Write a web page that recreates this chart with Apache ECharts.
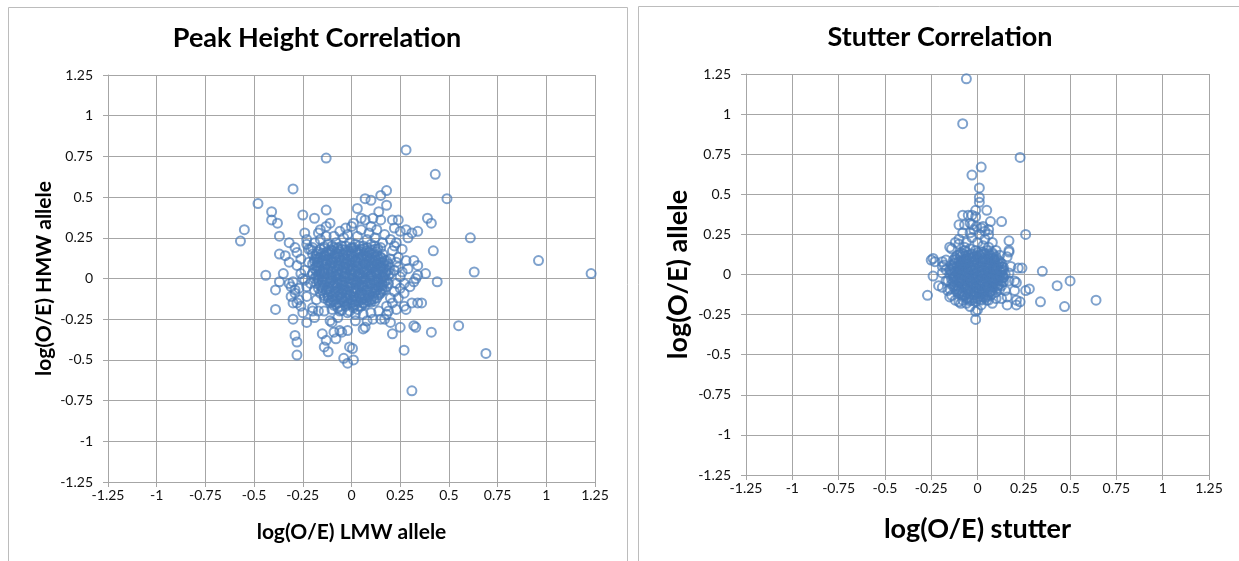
<!DOCTYPE html>
<html>
<head>
<meta charset="utf-8">
<script src="https://cdn.jsdelivr.net/npm/echarts@6/dist/echarts.min.js"></script>
<style>
  html, body { margin: 0; padding: 0; background: #fff; }
  #chart { width: 1239px; height: 561px; }
</style>
</head>
<body>
<div id="chart"></div>
<script>
// Shared axis range for both panels (log ratios)
const axisMin = -1.25;
const axisMax = 1.25;
const axisStep = 0.25;

const peakTitle = 'Peak Height Correlation';
const peakXName = 'log(O/E) LMW allele';
const peakYName = 'log(O/E) HMW allele';
const stutterTitle = 'Stutter Correlation';
const stutterXName = 'log(O/E) stutter';
const stutterYName = 'log(O/E) allele';

// Peak height: [LMW allele, HMW allele] - scattered points around the cluster
const peakOuter = [
  [0.28,0.79],[-0.13,0.74],[0.43,0.64],[-0.3,0.55],[0.18,0.54],[0.49,0.49],[-0.48,0.46],
  [0.15,0.51],[0.07,0.49],[0.1,0.48],[-0.41,0.41],[-0.41,0.36],[-0.38,0.34],[-0.13,0.42],
  [0.18,0.45],[-0.55,0.3],[-0.57,0.23],[-0.37,0.26],[-0.25,0.39],[-0.19,0.37],[0.03,0.43],
  [0.14,0.41],[0.39,0.37],[0.41,0.34],[0.34,0.29],[0.61,0.25],[0.42,0.17],[0.63,0.04],
  [0.44,-0.02],[0.38,0.03],[0.33,0.0],[0.34,0.02],[-0.44,0.02],[-0.39,-0.07],[-0.39,-0.19],
  [-0.3,-0.25],[-0.29,-0.35],[-0.28,-0.39],[-0.28,-0.47],[-0.14,-0.42],[-0.12,-0.45],
  [-0.04,-0.49],[-0.02,-0.52],[0.01,-0.5],[-0.01,-0.42],[0.005,-0.43],[0.27,-0.44],
  [0.21,-0.34],[0.25,-0.3],[0.32,-0.29],[0.33,-0.3],[0.41,-0.33],[0.55,-0.29],[0.69,-0.46],
  [0.31,-0.15],[0.34,-0.15],[0.36,-0.15],[0.27,-0.09],[-0.15,-0.34],[-0.13,-0.38],
  [-0.1,-0.27],[-0.23,-0.27],[-0.19,-0.24],[-0.25,-0.21],[-0.26,-0.17],[-0.31,-0.05],
  [-0.3,-0.02],[-0.32,-0.03],[-0.35,0.03],[-0.37,-0.02],[-0.34,0.14],[-0.37,0.15],
  [-0.32,0.22],[-0.29,0.19],[-0.28,0.16],[-0.26,0.03],[-0.25,0.0],[-0.24,0.28],[-0.23,0.21],
  [-0.22,0.18],[-0.2,0.19],[-0.03,0.31],[0.0,0.32],[0.01,0.34],[0.05,0.37],[0.07,0.36],
  [0.11,0.37],[0.15,0.36],[0.21,0.36],[0.24,0.36],[0.22,0.31],[0.25,0.29],[0.28,0.3],
  [0.29,0.25],[0.31,0.28],[0.24,0.13],[0.28,0.11],[0.32,0.11],[0.34,0.08],[0.32,-0.02],
  [0.24,0.07],[0.25,0.01],[0.21,0.17],[0.2,0.12],[0.28,-0.19],[0.27,-0.17],[0.19,-0.2],
  [0.2,-0.27],[0.18,-0.22],[0.15,-0.25],[0.11,-0.25],[0.07,-0.3],[0.06,-0.31],[0.02,-0.26],
  [-0.02,-0.32],[-0.06,-0.32],[-0.09,-0.33],[-0.08,-0.37],[-0.05,-0.33],[-0.11,-0.26],
  [-0.17,-0.2],[-0.2,-0.2],[-0.14,-0.2],[-0.3,-0.15],[-0.27,-0.13],[-0.29,-0.09],
  [0.96,0.11],[1.23,0.03],[0.31,-0.69],[-0.29,-0.07],[-0.31,-0.11],[-0.28,-0.15],
  [-0.32,0.1],[-0.28,0.08],[-0.24,0.05],[-0.24,-0.01],[-0.23,-0.05],[-0.23,-0.11],
  [-0.2,0.15],[-0.18,0.12],[-0.17,0.1],[-0.2,0.03],[-0.21,-0.03],[-0.19,-0.07],
  [-0.18,-0.13],[-0.2,-0.18],[-0.17,0.28],[-0.16,0.3],[-0.13,0.32],[-0.11,0.34],
  [-0.23,0.24],[-0.21,0.18],
  [0.05,0.3],[0.09,0.28],[0.13,0.3],[0.17,0.27],[0.2,0.24],[0.23,0.22],[0.12,0.25],
  [0.16,0.22],[0.08,0.24],[0.03,0.26],[-0.02,0.27],[-0.06,0.29],[-0.09,0.26],[-0.13,0.26],
  [-0.16,0.24],[-0.19,0.22],[0.22,0.05],[0.23,-0.03],[0.22,-0.08],[0.24,-0.12],[0.21,-0.15],
  [0.18,-0.17],[0.14,-0.2],[0.1,-0.21],[0.06,-0.22],[0.02,-0.22],[-0.02,-0.21],[-0.06,-0.2],
  [-0.1,-0.19],[0.26,0.18],[0.22,0.2],[0.2,-0.12],[0.23,0.1],
  [0.26,0.04],[0.27,-0.03],[0.25,-0.06],[0.29,0.06],[0.3,-0.05],[0.23,-0.19],[0.17,-0.25],
  [-0.26,0.12],[-0.27,-0.06],[-0.22,0.1],[0.08,-0.26],[-0.07,-0.24],[-0.04,0.25],[0.1,0.32]
];

// Peak height: dense centre of the cluster
const peakCore = [
  [-0.12,0.21],[-0.08,0.22],[-0.05,0.2],[-0.01,0.22],[0.02,0.21],[0.06,0.2],[0.1,0.21],
  [-0.16,0.18],[-0.12,0.17],[-0.09,0.19],[-0.05,0.18],[-0.02,0.17],[0.01,0.19],[0.05,0.18],
  [0.08,0.17],[0.12,0.18],[0.15,0.19],
  [-0.18,0.15],[-0.14,0.14],[-0.11,0.16],[-0.07,0.15],[-0.04,0.14],[0.0,0.15],[0.03,0.16],
  [0.06,0.14],[0.1,0.15],[0.13,0.14],[0.16,0.15],
  [-0.19,0.12],[-0.15,0.11],[-0.12,0.12],[-0.08,0.13],[-0.05,0.11],[-0.02,0.12],[0.02,0.11],
  [0.05,0.12],[0.08,0.13],[0.11,0.11],[0.14,0.12],[0.17,0.11],
  [-0.2,0.09],[-0.17,0.08],[-0.13,0.09],[-0.1,0.1],[-0.06,0.08],[-0.03,0.09],[0.0,0.08],
  [0.03,0.1],[0.07,0.09],[0.1,0.08],[0.13,0.09],[0.16,0.08],[0.19,0.09],
  [-0.19,0.06],[-0.16,0.05],[-0.12,0.06],[-0.09,0.07],[-0.05,0.05],[-0.02,0.06],[0.01,0.05],
  [0.05,0.06],[0.08,0.05],[0.11,0.07],[0.15,0.06],[0.18,0.05],
  [-0.2,0.03],[-0.17,0.02],[-0.14,0.03],[-0.1,0.04],[-0.07,0.02],[-0.03,0.03],[0.0,0.02],
  [0.04,0.03],[0.07,0.04],[0.1,0.02],[0.13,0.03],[0.17,0.02],[0.2,0.03],
  [-0.19,0.0],[-0.15,-0.01],[-0.12,0.0],[-0.08,0.01],[-0.05,-0.01],[-0.01,0.0],[0.02,-0.01],
  [0.05,0.0],[0.09,0.01],[0.12,-0.01],[0.15,0.0],[0.18,-0.01],
  [-0.18,-0.03],[-0.14,-0.04],[-0.11,-0.02],[-0.07,-0.03],[-0.04,-0.04],[0.0,-0.03],
  [0.03,-0.02],[0.06,-0.04],[0.1,-0.03],[0.13,-0.02],[0.16,-0.04],[0.19,-0.03],
  [-0.17,-0.06],[-0.13,-0.07],[-0.1,-0.05],[-0.06,-0.06],[-0.03,-0.07],[0.01,-0.06],
  [0.04,-0.05],[0.08,-0.07],[0.11,-0.06],[0.14,-0.05],[0.17,-0.07],
  [-0.16,-0.09],[-0.12,-0.1],[-0.08,-0.08],[-0.05,-0.09],[-0.01,-0.1],[0.02,-0.08],
  [0.05,-0.09],[0.09,-0.1],[0.12,-0.08],[0.15,-0.09],
  [-0.14,-0.12],[-0.1,-0.13],[-0.07,-0.11],[-0.03,-0.12],[0.0,-0.13],[0.04,-0.11],
  [0.07,-0.12],[0.1,-0.13],[0.13,-0.12],
  [-0.11,-0.15],[-0.08,-0.16],[-0.04,-0.14],[-0.01,-0.15],[0.02,-0.16],[0.06,-0.15],[0.09,-0.14],
  [-0.07,-0.18],[-0.03,-0.17],[0.01,-0.18],[0.05,-0.17],
  [-0.14,0.195],[-0.1,0.2],[-0.07,0.19],[-0.03,0.2],[0.0,0.19],[0.04,0.2],[0.08,0.19],[0.12,0.2],
  [-0.17,0.165],[-0.13,0.16],[-0.1,0.17],[-0.06,0.165],[-0.03,0.16],[0.02,0.17],[0.05,0.165],
  [0.09,0.16],[0.13,0.165],
  [-0.18,0.135],[-0.16,0.13],[-0.13,0.14],[-0.09,0.135],[-0.06,0.13],[-0.02,0.14],[0.01,0.135],
  [0.05,0.13],[0.08,0.14],[0.12,0.135],[0.15,0.13],
  [-0.19,0.105],[-0.15,0.1],[-0.11,0.11],[-0.08,0.105],[-0.04,0.1],[-0.01,0.11],[0.02,0.105],
  [0.06,0.1],[0.09,0.11],[0.12,0.105],[0.15,0.1],[0.18,0.11],
  [-0.18,0.075],[-0.14,0.07],[-0.11,0.08],[-0.07,0.075],[-0.04,0.07],[-0.01,0.08],[0.03,0.075],
  [0.06,0.07],[0.09,0.08],[0.12,0.075],[0.15,0.07],[0.18,0.08],
  [-0.18,0.045],[-0.15,0.04],[-0.12,0.05],[-0.08,0.045],[-0.05,0.04],[-0.01,0.05],[0.02,0.045],
  [0.06,0.04],[0.09,0.05],[0.12,0.045],[0.16,0.04],[0.19,0.05],
  [-0.18,0.015],[-0.15,0.01],[-0.11,0.02],[-0.08,0.015],[-0.04,0.01],[-0.01,0.02],[0.03,0.015],
  [0.06,0.01],[0.1,0.02],[0.13,0.015],[0.16,0.01],[0.19,0.02],
  [-0.17,-0.015],[-0.13,-0.02],[-0.1,-0.01],[-0.06,-0.015],[-0.03,-0.02],[0.01,-0.01],
  [0.04,-0.015],[0.07,-0.02],[0.11,-0.01],[0.14,-0.015],[0.17,-0.02],
  [-0.16,-0.045],[-0.12,-0.05],[-0.09,-0.04],[-0.05,-0.045],[-0.02,-0.05],[0.02,-0.04],
  [0.05,-0.045],[0.08,-0.05],[0.12,-0.04],[0.15,-0.045],[0.18,-0.05],
  [-0.15,-0.075],[-0.11,-0.08],[-0.07,-0.07],[-0.04,-0.075],[0.0,-0.08],[0.03,-0.07],
  [0.07,-0.075],[0.1,-0.08],[0.13,-0.07],[0.16,-0.075],
  [-0.14,-0.105],[-0.1,-0.11],[-0.06,-0.1],[-0.03,-0.105],[0.01,-0.11],[0.04,-0.1],
  [0.07,-0.105],[0.11,-0.11],[0.14,-0.1],
  [-0.12,-0.135],[-0.09,-0.14],[-0.05,-0.13],[-0.02,-0.135],[0.02,-0.14],[0.05,-0.13],
  [0.08,-0.135],[0.12,-0.14],
  [-0.09,-0.165],[-0.06,-0.17],[-0.02,-0.16],[0.01,-0.165],[0.04,-0.17],[0.07,-0.16],
  [-0.05,-0.195],[-0.01,-0.2],[0.03,-0.19],
  [-0.14,0.185],[-0.105,0.175],[-0.07,0.185],[-0.035,0.175],[0.0,0.185],[0.03,0.175],
  [0.065,0.185],[0.1,0.175],[0.135,0.185],
  [-0.17,0.125],[-0.135,0.115],[-0.1,0.125],[-0.065,0.115],[-0.035,0.125],[0.0,0.115],
  [0.035,0.125],[0.065,0.115],[0.095,0.125],[0.125,0.115],[0.155,0.125],
  [-0.175,0.065],[-0.14,0.055],[-0.105,0.065],[-0.07,0.055],[-0.035,0.065],[0.0,0.055],
  [0.03,0.065],[0.065,0.055],[0.095,0.065],[0.13,0.055],[0.165,0.065],
  [-0.17,0.005],[-0.135,-0.005],[-0.1,0.005],[-0.065,-0.005],[-0.03,0.005],[0.005,-0.005],
  [0.035,0.005],[0.07,-0.005],[0.105,0.005],[0.135,-0.005],[0.165,0.005],
  [-0.15,-0.055],[-0.115,-0.065],[-0.08,-0.055],[-0.045,-0.065],[-0.01,-0.055],[0.025,-0.065],
  [0.06,-0.055],[0.095,-0.065],[0.125,-0.055],[0.155,-0.065],
  [-0.12,-0.115],[-0.085,-0.125],[-0.05,-0.115],[-0.015,-0.125],[0.02,-0.115],[0.055,-0.125],
  [0.085,-0.115],[0.115,-0.125],
  [-0.15,0.155],[-0.115,0.15],[-0.08,0.155],[-0.045,0.15],[-0.005,0.155],[0.035,0.15],
  [0.07,0.155],[0.11,0.15],
  [-0.17,0.095],[-0.13,0.09],[-0.095,0.095],[-0.06,0.09],[-0.025,0.095],[0.005,0.09],
  [0.04,0.095],[0.075,0.09],[0.105,0.095],[0.135,0.09],[0.165,0.095],
  [-0.165,0.035],[-0.135,0.03],[-0.1,0.035],[-0.065,0.03],[-0.03,0.035],[0.005,0.03],
  [0.04,0.035],[0.075,0.03],[0.105,0.035],[0.14,0.03],[0.175,0.035],
  [-0.15,-0.025],[-0.115,-0.03],[-0.08,-0.025],[-0.045,-0.03],[-0.01,-0.025],[0.025,-0.03],
  [0.055,-0.025],[0.09,-0.03],[0.125,-0.025],[0.155,-0.03],
  [-0.13,-0.085],[-0.09,-0.09],[-0.055,-0.085],[-0.02,-0.09],[0.015,-0.085],[0.05,-0.09],
  [0.085,-0.085],[0.115,-0.09],[0.145,-0.085],
  [-0.105,-0.145],[-0.07,-0.15],[-0.035,-0.145],[0.0,-0.15],[0.035,-0.145],[0.065,-0.15],
  [0.1,-0.145]
];

// Stutter: [stutter, allele] - scattered points around the cluster
const stutterOuter = [
  [-0.06,1.22],[-0.08,0.94],[0.23,0.73],[0.02,0.67],[-0.03,0.62],[0.01,0.54],[0.01,0.48],
  [0.01,0.45],[-0.01,0.4],[0.05,0.4],[-0.08,0.37],[-0.05,0.37],[-0.03,0.37],[-0.01,0.36],
  [-0.1,0.31],[-0.07,0.31],[-0.03,0.31],[0.07,0.33],[0.06,0.28],[0.13,0.33],[0.26,0.25],
  [0.17,0.21],[-0.08,0.26],[0.02,0.29],[-0.005,0.3],[-0.04,0.32],[0.08,0.2],[0.06,0.25],
  [0.04,0.22],[-0.15,0.17],[-0.14,0.16],[-0.1,0.19],[-0.24,0.1],[-0.23,0.08],[-0.25,0.09],
  [-0.19,0.08],[-0.17,0.09],[-0.24,-0.01],[-0.27,-0.13],[-0.21,-0.07],[-0.19,-0.08],
  [0.17,0.14],[0.17,0.15],[0.16,0.11],[0.22,0.04],[0.24,0.04],[0.35,0.02],[0.2,-0.04],
  [0.21,-0.05],[0.5,-0.04],[0.43,-0.07],[0.47,-0.2],[0.34,-0.17],[0.26,-0.1],[0.28,-0.09],
  [0.21,-0.16],[0.23,-0.17],[0.21,-0.19],[0.16,-0.19],[0.2,-0.1],[-0.01,-0.23],[-0.01,-0.28],
  [-0.04,-0.2],[0.1,-0.15],[0.05,-0.16],[-0.14,-0.13],[-0.1,-0.17],[-0.08,-0.16],
  [-0.19,0.01],[-0.17,-0.04],[-0.16,-0.1],[-0.19,0.05],[0.15,-0.1],[0.14,-0.02],[0.17,0.01],
  [0.17,-0.04],[0.18,0.05],[0.1,0.15],[0.09,0.09],[0.13,0.07],[0.64,-0.16],[-0.15,-0.14],
  [-0.12,-0.16],[-0.09,-0.18],[0.0,-0.22],[-0.18,0.06],[-0.17,0.03],[-0.16,-0.04],
  [-0.15,-0.09],
  [-0.1,0.22],[-0.06,0.2],[-0.03,0.23],[0.0,0.2],[0.03,0.18],[-0.07,0.17],[-0.04,0.26],
  [0.01,0.25],[-0.02,0.28],[0.04,0.27],[0.03,0.3],[-0.12,0.2],[0.06,0.17],
  [0.13,-0.15],[0.08,-0.18],[0.02,-0.19],[-0.06,-0.18],[0.16,-0.14],[0.12,0.12]
];

// Stutter: dense centre of the cluster
const stutterCore = [
  [-0.07,0.15],[-0.04,0.16],[-0.01,0.15],[0.02,0.14],[0.05,0.15],
  [-0.11,0.12],[-0.08,0.13],[-0.05,0.12],[-0.02,0.11],[0.01,0.12],[0.04,0.13],[0.07,0.12],[0.1,0.11],
  [-0.13,0.09],[-0.1,0.08],[-0.07,0.09],[-0.04,0.1],[-0.01,0.09],[0.02,0.08],[0.05,0.09],
  [0.08,0.1],[0.11,0.09],
  [-0.14,0.06],[-0.11,0.05],[-0.08,0.06],[-0.05,0.07],[-0.02,0.06],[0.01,0.05],[0.04,0.06],
  [0.07,0.07],[0.1,0.06],[0.13,0.05],
  [-0.15,0.03],[-0.12,0.02],[-0.09,0.03],[-0.06,0.04],[-0.03,0.03],[0.0,0.02],[0.03,0.03],
  [0.06,0.04],[0.09,0.03],[0.12,0.02],[0.14,0.03],
  [-0.15,0.0],[-0.12,-0.01],[-0.09,0.0],[-0.06,0.01],[-0.03,0.0],[0.0,-0.01],[0.03,0.0],
  [0.06,0.01],[0.09,0.0],[0.12,-0.01],[0.15,0.0],
  [-0.14,-0.03],[-0.11,-0.04],[-0.08,-0.03],[-0.05,-0.02],[-0.02,-0.03],[0.01,-0.04],
  [0.04,-0.03],[0.07,-0.02],[0.1,-0.03],[0.13,-0.04],
  [-0.14,-0.06],[-0.11,-0.07],[-0.08,-0.06],[-0.05,-0.05],[-0.02,-0.06],[0.01,-0.07],
  [0.04,-0.06],[0.07,-0.05],[0.1,-0.06],[0.13,-0.07],
  [-0.12,-0.09],[-0.09,-0.1],[-0.06,-0.09],[-0.03,-0.08],[0.0,-0.09],[0.03,-0.1],[0.06,-0.09],
  [0.09,-0.08],[0.12,-0.09],
  [-0.1,-0.12],[-0.07,-0.13],[-0.04,-0.12],[-0.01,-0.11],[0.02,-0.12],[0.05,-0.13],[0.08,-0.12],
  [-0.06,-0.15],[-0.03,-0.16],[0.0,-0.15],[0.03,-0.14],[0.06,-0.16],
  [-0.09,0.135],[-0.06,0.14],[-0.03,0.13],[0.0,0.135],[0.03,0.14],[0.06,0.13],[0.08,0.135],
  [-0.12,0.105],[-0.09,0.11],[-0.06,0.1],[-0.03,0.105],[0.0,0.11],[0.03,0.1],[0.06,0.105],[0.09,0.1],
  [-0.12,0.075],[-0.09,0.07],[-0.06,0.08],[-0.03,0.075],[0.0,0.07],[0.03,0.08],[0.06,0.075],
  [0.09,0.07],[0.12,0.08],
  [-0.13,0.045],[-0.1,0.04],[-0.07,0.05],[-0.04,0.045],[-0.01,0.04],[0.02,0.05],[0.05,0.045],
  [0.08,0.04],[0.11,0.05],[0.14,0.045],
  [-0.14,0.015],[-0.11,0.01],[-0.08,0.02],[-0.05,0.015],[-0.02,0.01],[0.01,0.02],[0.04,0.015],
  [0.07,0.01],[0.1,0.02],[0.13,0.015],
  [-0.13,-0.015],[-0.1,-0.02],[-0.07,-0.01],[-0.04,-0.015],[-0.01,-0.02],[0.02,-0.01],
  [0.05,-0.015],[0.08,-0.02],[0.11,-0.01],[0.14,-0.015],
  [-0.13,-0.045],[-0.1,-0.05],[-0.07,-0.04],[-0.04,-0.045],[-0.01,-0.05],[0.02,-0.04],
  [0.05,-0.045],[0.08,-0.05],[0.11,-0.04],[0.14,-0.045],
  [-0.13,-0.075],[-0.1,-0.08],[-0.07,-0.07],[-0.04,-0.075],[-0.01,-0.08],[0.02,-0.07],
  [0.05,-0.075],[0.08,-0.08],[0.11,-0.07],
  [-0.11,-0.105],[-0.08,-0.11],[-0.05,-0.1],[-0.02,-0.105],[0.01,-0.11],[0.04,-0.1],
  [0.07,-0.105],[0.1,-0.11],
  [-0.08,-0.135],[-0.05,-0.14],[-0.02,-0.13],[0.01,-0.135],[0.04,-0.14],[0.07,-0.13],
  [-0.04,-0.165],[-0.01,-0.17],[0.02,-0.16],
  [-0.095,0.125],[-0.065,0.115],[-0.035,0.125],[-0.005,0.115],[0.025,0.125],[0.055,0.115],
  [0.085,0.125],
  [-0.125,0.065],[-0.095,0.055],[-0.065,0.065],[-0.035,0.055],[-0.005,0.065],[0.025,0.055],
  [0.055,0.065],[0.085,0.055],[0.115,0.065],
  [-0.135,0.005],[-0.105,-0.005],[-0.075,0.005],[-0.045,-0.005],[-0.015,0.005],[0.015,-0.005],
  [0.045,0.005],[0.075,-0.005],[0.105,0.005],[0.135,-0.005],
  [-0.125,-0.065],[-0.095,-0.055],[-0.065,-0.065],[-0.035,-0.055],[-0.005,-0.065],
  [0.025,-0.055],[0.055,-0.065],[0.085,-0.055],[0.115,-0.065],
  [-0.085,-0.125],[-0.055,-0.115],[-0.025,-0.125],[0.005,-0.115],[0.035,-0.125],[0.065,-0.115],
  [-0.115,0.095],[-0.085,0.085],[-0.055,0.095],[-0.025,0.085],[0.005,0.095],[0.035,0.085],
  [0.065,0.095],[0.095,0.085],
  [-0.135,0.035],[-0.105,0.025],[-0.075,0.035],[-0.045,0.025],[-0.015,0.035],[0.015,0.025],
  [0.045,0.035],[0.075,0.025],[0.105,0.035],[0.13,0.025],
  [-0.125,-0.025],[-0.095,-0.035],[-0.065,-0.025],[-0.035,-0.035],[-0.005,-0.025],
  [0.025,-0.035],[0.055,-0.025],[0.085,-0.035],[0.115,-0.025],
  [-0.105,-0.095],[-0.075,-0.085],[-0.045,-0.095],[-0.015,-0.085],[0.015,-0.095],
  [0.045,-0.085],[0.075,-0.095],[0.105,-0.085],
  [-0.045,-0.155],[-0.015,-0.145],[0.015,-0.155],[0.045,-0.145]
];

const fontFamily = 'Lato, "Open Sans", sans-serif';
const gridColor = '#a6a6a6';
const markColor = 'rgba(72,122,184,0.88)';

function valueAxis(gridIndex, name, nameGap, nameSize, isY) {
  return {
    type: 'value',
    gridIndex: gridIndex,
    min: axisMin,
    max: axisMax,
    interval: axisStep,
    name: name,
    nameLocation: 'middle',
    nameGap: nameGap,
    nameRotate: isY ? 90 : 0,
    nameTextStyle: { fontFamily: fontFamily, fontWeight: 'bold', fontSize: nameSize, color: '#000' },
    axisLine: { show: true, onZero: false, lineStyle: { color: gridColor, width: 1 } },
    axisTick: { show: true, length: 5, lineStyle: { color: gridColor } },
    axisLabel: {
      fontFamily: fontFamily, fontSize: 14, color: '#111',
      margin: isY ? 15 : 6
    },
    splitLine: { show: true, lineStyle: { color: gridColor, width: 1 } }
  };
}

function scatter(xi, data) {
  return {
    type: 'scatter',
    xAxisIndex: xi,
    yAxisIndex: xi,
    data: data,
    symbol: 'circle',
    symbolSize: 9,
    silent: true,
    itemStyle: { color: 'rgba(0,0,0,0)', borderColor: markColor, borderWidth: 2 }
  };
}

const chart = echarts.init(document.getElementById('chart'), null, { renderer: 'canvas' });

chart.setOption({
  backgroundColor: '#fff',
  animation: false,
  grid: [
    { left: 108, top: 75, width: 487, height: 407 },
    { left: 746, top: 74, width: 463, height: 401 }
  ],
  xAxis: [
    valueAxis(0, peakXName, 40, 21, false),
    valueAxis(1, stutterXName, 41, 27, false)
  ],
  yAxis: [
    valueAxis(0, peakYName, 53, 21, true),
    valueAxis(1, stutterYName, 54, 27, true)
  ],
  series: [
    scatter(0, peakOuter.concat(peakCore)),
    scatter(1, stutterOuter.concat(stutterCore))
  ],
  graphic: [
    { type: 'rect', silent: true, shape: { x: 8.5, y: 7.5, width: 619, height: 600 },
      style: { fill: null, stroke: '#bcbcbc', lineWidth: 1 } },
    { type: 'rect', silent: true, shape: { x: 638.5, y: 6.5, width: 700, height: 600 },
      style: { fill: null, stroke: '#bcbcbc', lineWidth: 1 } },
    { type: 'text', silent: true, x: 317, y: 38,
      style: { text: peakTitle, textAlign: 'center', textVerticalAlign: 'middle',
               font: 'bold 27px ' + fontFamily, fill: '#000' } },
    { type: 'text', silent: true, x: 940, y: 37,
      style: { text: stutterTitle, textAlign: 'center', textVerticalAlign: 'middle',
               font: 'bold 27px ' + fontFamily, fill: '#000' } }
  ]
});
</script>
</body>
</html>
